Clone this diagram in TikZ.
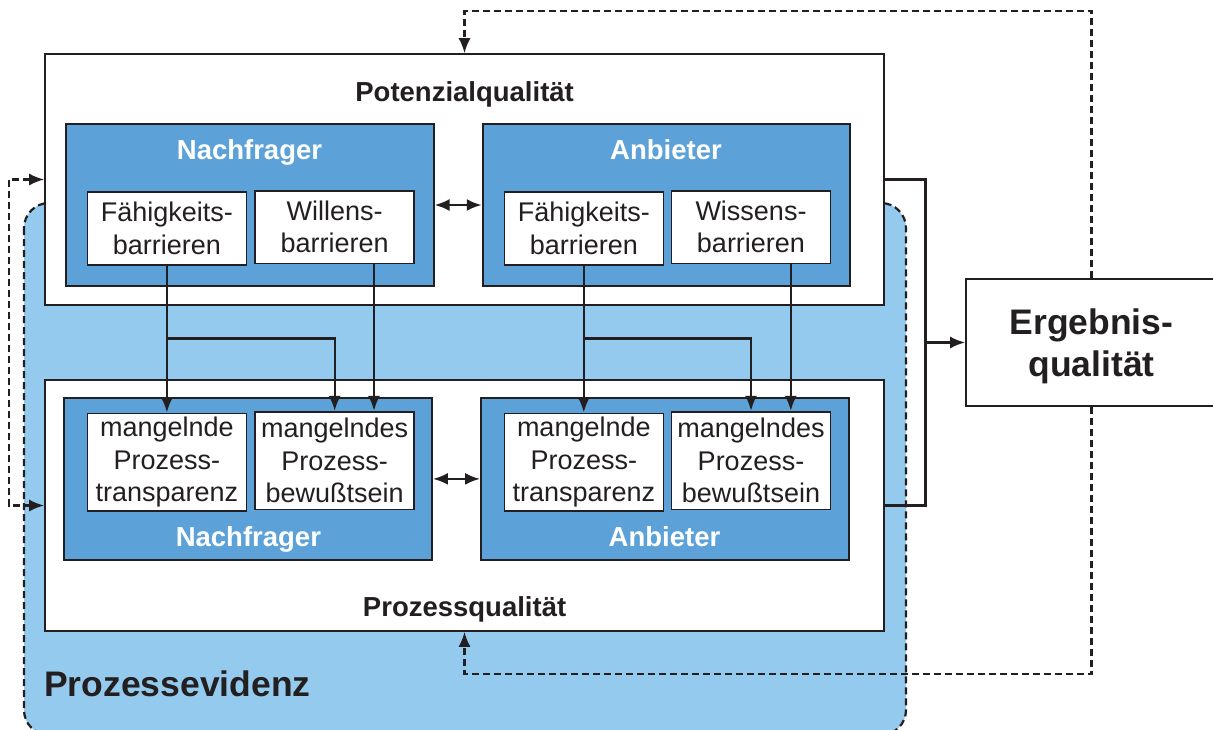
\documentclass[tikz,border=0pt]{standalone}
\usepackage{fontspec}
\setmainfont{Liberation Sans}
\usetikzlibrary{arrows.meta}
\definecolor{boxblue}{HTML}{5CA2D8}
\definecolor{areablue}{HTML}{94CAED}
\definecolor{ink}{HTML}{231F20}

\begin{document}
\begin{tikzpicture}[x=1pt, y=-1pt,
    quality/.style={draw=ink, line width=1.6pt, fill=white, inner sep=0pt},
    party/.style={draw=ink, line width=2pt, fill=boxblue, inner sep=0pt,
      minimum width=367.5pt, minimum height=162pt},
    barrier/.style={draw=ink, line width=1.6pt, fill=white, inner sep=0pt,
      align=center, text=ink, minimum width=159pt,
      font=\fontsize{27}{32.5}\selectfont},
    head/.style={font=\fontsize{27.5}{33}\selectfont\bfseries, anchor=base, inner sep=0pt},
    link/.style={draw=ink, line width=2.4pt, -{Latex[length=15pt, width=12pt]}},
    feedback/.style={draw=ink, line width=2.2pt, dash pattern=on 7pt off 4pt,
      -{Latex[length=15pt, width=12pt]}}]
  \useasboundingbox (0,0) rectangle (1213,729);

  % Prozessevidenz area
  \draw[fill=areablue, draw=ink, line width=2.2pt, dash pattern=on 7pt off 4pt,
    rounded corners=25pt] (24,203) rectangle (906,735);
  \node[anchor=base west, inner sep=0pt, text=ink,
    font=\fontsize{35.5}{42}\selectfont\bfseries] (evid) at (44,696.7) {Prozessevidenz};

  % quality boxes
  \node[quality, minimum width=839pt, minimum height=251pt] (pot) at (464.5,179.5) {};
  \node[quality, minimum width=839pt, minimum height=251pt] (proz) at (464.5,505.5) {};
  \node[head, text=ink] (potlbl) at (464.6,101) {Potenzialqualität};
  \node[head, text=ink] (prozlbl) at (464.6,616) {Prozessqualität};
  \node[quality, minimum width=251pt, minimum height=127pt, align=center, text=ink,
    text depth=0pt, font=\fontsize{35.5}{42}\selectfont\bfseries] (erg)
    at (1091.5,342.5) {Ergebnis-\\qualität};

  % parties, Potenzialqualität
  \node[party] (nfTop) at (249.8,205) {};
  \node[party] (anTop) at (666.5,205) {};
  \node[head, text=white] (nfTopLbl) at (249.5,159.3) {Nachfrager};
  \node[head, text=white] (anTopLbl) at (666,159.3) {Anbieter};
  \node[barrier, minimum height=73pt] (nfFaeh) at (166.9,228.5) {Fähigkeits-\\barrieren};
  \node[barrier, minimum height=72.6pt] (nfWill) at (334.7,227) {Willens-\\barrieren};
  \node[barrier, minimum height=73pt] (anFaeh) at (583.8,228.5) {Fähigkeits-\\barrieren};
  \node[barrier, minimum height=72.6pt] (anWiss) at (751,227) {Wissens-\\barrieren};

  % parties, Prozessqualität
  \node[party] (nfBot) at (248.2,478.9) {};
  \node[party] (anBot) at (664.8,478.9) {};
  \node[head, text=white] (nfBotLbl) at (248.4,546) {Nachfrager};
  \node[head, text=white] (anBotLbl) at (664.5,546) {Anbieter};
  \node[barrier, minimum height=97.7pt] (nfTrans) at (166.9,462.2) {mangelnde\\Prozess-\\transparenz};
  \node[barrier, minimum height=97.6pt] (nfBew) at (334.7,460.5) {mangelndes\\Prozess-\\bewußtsein};
  \node[barrier, minimum height=97.7pt] (anTrans) at (583.8,462.2) {mangelnde\\Prozess-\\transparenz};
  \node[barrier, minimum height=97.6pt] (anBew) at (751,460.5) {mangelndes\\Prozess-\\bewußtsein};

  % exchange between parties
  \draw[link, {Latex[length=15pt, width=12pt]}-{Latex[length=15pt, width=12pt]}] (nfTop) -- (anTop);
  \draw[link, {Latex[length=15pt, width=12pt]}-{Latex[length=15pt, width=12pt]}] (nfBot) -- (anBot);

  % barriers lead to deficits
  \coordinate (nfSplit) at (166.9,338.3);
  \coordinate (anSplit) at (583.8,338.3);
  \draw[link] (nfFaeh) -- (nfTrans);
  \draw[link] (nfSplit) -| (nfBew);
  \draw[link] ([xshift=39.3pt]nfWill.south) -- ([xshift=39.3pt]nfBew.north);
  \draw[link] (anFaeh) -- (anTrans);
  \draw[link] (anSplit) -| (anBew);
  \draw[link] ([xshift=39.8pt]anWiss.south) -- ([xshift=39.8pt]anBew.north);

  % into Ergebnisqualität
  \coordinate (merge) at (925.3,342.5);
  \draw[draw=ink, line width=2.4pt] (pot.east) -| (merge) |- (proz.east);
  \draw[link] (merge) -- (erg);

  % feedback loops
  \coordinate (fbTop) at (1091.5,11);
  \coordinate (fbBot) at (1091.5,674);
  \draw[feedback] (erg.north) |- (pot.north |- fbTop) -- (pot.north);
  \draw[feedback] (erg.south) |- (proz.south |- fbBot) -- (proz.south);
  \draw[feedback, {Latex[length=15pt, width=12pt]}-{Latex[length=15pt, width=12pt]}]
    (pot.west) -- ++(-35.4,0) |- (proz.west);
\end{tikzpicture}
\end{document}
